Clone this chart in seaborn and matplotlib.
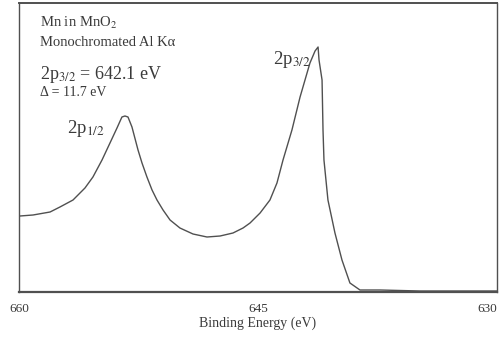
import matplotlib
matplotlib.use("Agg")
import matplotlib.pyplot as plt
import seaborn as sns
import pandas as pd

# Mn 2p spectrum of MnO2 (binding energy in eV, intensity in arbitrary units)
binding_energy = [659.94, 659.12, 658.05, 657.43, 656.61, 655.86, 655.36, 654.79,
                  654.29, 653.85, 653.54, 653.35, 653.16, 652.91, 652.53, 652.28,
                  651.97, 651.65, 651.34, 650.96, 650.52, 649.90, 649.08, 648.20,
                  647.38, 646.57, 645.94, 645.50, 644.87, 644.25, 643.81, 643.43,
                  642.87, 642.36, 641.74, 641.42, 641.23, 641.17, 640.98, 640.92,
                  640.86, 640.61, 640.17, 639.73, 639.23, 638.60, 637.34, 634.83,
                  632.32, 630.00]
intensity = [76, 77, 80, 85, 92, 104, 115, 132,
             149, 164, 175, 176, 175, 165, 142, 129,
             115, 102, 92, 82, 72, 64, 58, 55,
             56, 59, 64, 69, 79, 92, 109, 132,
             162, 195, 229, 241, 245, 232, 212, 162,
             132, 92, 59, 32, 9, 2, 2, 1,
             1, 1]

x_ticks = [660, 645, 630]
x_tick_labels = ["660", "645", "630"]

df = pd.DataFrame({"Binding Energy (eV)": binding_energy, "Intensity": intensity})

sns.set_theme(style="white")
plt.rcParams["font.family"] = ["Liberation Serif", "DejaVu Serif"]
plt.rcParams["mathtext.fontset"] = "stix"

fig = plt.figure(figsize=(4.99, 3.40), dpi=100)
ax = fig.add_axes([19 / 499, 1 - 292 / 340, 478 / 499, 289 / 340])

ink = "#3a3a3a"
sns.lineplot(data=df, x="Binding Energy (eV)", y="Intensity", ax=ax,
             color="#505050", linewidth=1.0, estimator=None)

ax.set_xlim(660, 630)
ax.set_ylim(0, 289)
ax.set_yticks([])
ax.set_ylabel("")
ax.set_xticks(x_ticks)
ax.set_xticklabels(x_tick_labels)
ax.tick_params(axis="x", direction="in", length=3, width=0.8, color=ink,
               labelsize=9.5, labelcolor=ink, pad=8)
labels = ax.get_xticklabels()
labels[-1].set_horizontalalignment("right")
ax.set_xlabel("Binding Energy (eV)", fontsize=10, color=ink, labelpad=1)

for side, lw in [("left", 1.0), ("right", 1.0), ("top", 1.4), ("bottom", 1.6)]:
    ax.spines[side].set_visible(True)
    ax.spines[side].set_color("#505050")
    ax.spines[side].set_linewidth(lw)

tkw = dict(transform=ax.transAxes, color=ink, ha="left", va="center")
ax.text(0.044, 0.931, r"Mn in MnO$_2$", fontsize=10.5, **tkw)
ax.text(0.044, 0.865, "Monochromated Al Kα", fontsize=10.5, **tkw)
ax.text(0.044, 0.751, r"2p$_{3/2}$ = 642.1 eV", fontsize=13, **tkw)
ax.text(0.044, 0.689, "Δ = 11.7 eV", fontsize=10, **tkw)
ax.text(0.100, 0.567, r"2p$_{1/2}$", fontsize=13.5, **tkw)
ax.text(0.531, 0.806, r"2p$_{3/2}$", fontsize=13.5, **tkw)

fig.savefig("out.png", dpi=100, facecolor="white")
